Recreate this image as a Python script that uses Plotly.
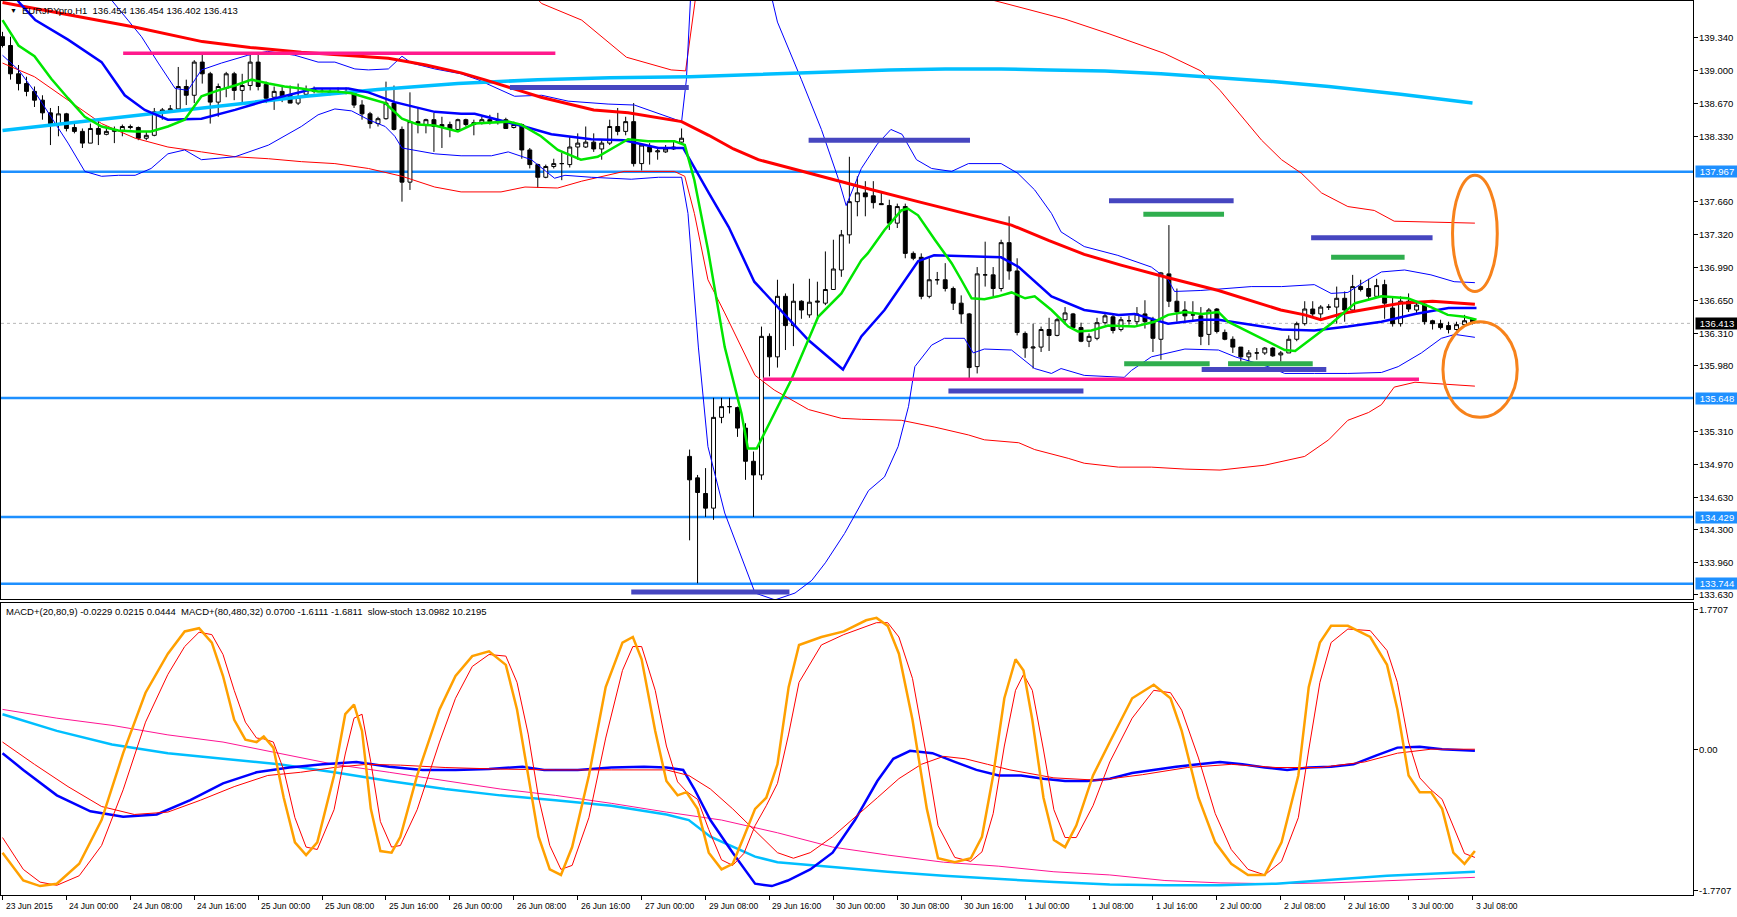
import plotly.graph_objects as go

# ---------------- candle data (H1 bars, index 0 = 23 Jun 16:00) ----------------
opens = [139.35,139.26,138.97,138.87,138.79,138.70,138.57,138.46,138.56,138.42,
138.38,138.26,138.41,138.35,138.38,138.39,138.43,138.42,138.31,138.34,
138.58,138.60,138.61,138.84,138.75,139.09,138.97,138.68,138.82,138.97,
138.80,138.85,139.09,138.86,138.73,138.79,138.75,138.67,138.76,138.81,
138.79,138.79,138.77,138.79,138.78,138.65,138.56,138.46,138.51,138.67,
138.40,137.86,138.48,138.45,138.50,138.43,138.45,138.40,138.50,138.45,
138.47,138.50,138.49,138.50,138.42,138.45,138.19,138.04,137.91,138.02,
138.05,138.04,138.22,138.22,138.27,138.20,138.26,138.43,138.38,138.48,
138.05,138.22,138.17,138.17,138.20,138.27,135.05,134.83,134.67,134.52,
135.45,135.56,135.55,135.34,135.00,134.86,136.28,136.07,136.69,136.39,
136.64,136.50,136.63,136.62,136.76,136.96,137.32,137.66,137.75,137.72,
137.64,137.62,137.44,137.61,137.13,137.09,136.69,136.86,136.86,136.77,
136.62,136.51,135.97,136.91,136.91,136.77,137.24,136.95,136.31,136.16,
136.17,136.35,136.29,136.45,136.51,136.37,136.23,136.26,136.42,136.48,
136.35,136.44,136.43,136.51,136.45,136.25,136.92,136.64,136.55,136.50,
136.49,136.30,136.56,136.32,136.25,136.17,136.07,136.11,136.11,136.16,
136.09,136.11,136.25,136.41,136.56,136.51,136.58,136.58,136.67,136.55,
136.79,136.77,136.69,136.81,136.57,136.41,136.64,136.55,136.61,136.44,
136.41,136.39,136.35,136.40,136.454]
highs = [139.40,139.35,139.06,138.94,138.84,138.75,138.62,138.64,138.57,138.48,
138.41,138.46,138.51,138.43,138.43,138.45,138.45,138.43,138.38,138.62,
138.62,138.65,139.04,138.91,139.11,139.18,138.99,138.87,138.99,138.99,
138.97,139.18,139.18,138.89,138.84,138.84,138.85,138.87,138.85,138.84,
138.82,138.81,138.83,138.83,138.80,138.70,138.58,138.53,138.89,138.85,
138.43,138.78,138.63,138.51,138.57,138.53,138.48,138.51,138.51,138.50,
138.53,138.55,138.57,138.52,138.48,138.46,138.21,138.05,138.04,138.10,
138.16,138.33,138.36,138.43,138.36,138.29,138.50,138.62,138.53,138.67,
138.26,138.26,138.22,138.24,138.29,138.41,135.12,134.86,134.93,135.65,
135.65,135.65,135.56,135.39,135.10,136.38,136.31,136.86,136.72,136.82,
136.65,136.87,136.84,137.15,137.27,137.37,138.12,137.92,137.87,137.87,
137.75,137.68,137.64,137.64,137.15,137.13,137.08,136.94,137.03,136.79,
136.70,136.52,136.99,137.25,136.99,137.27,137.51,137.08,136.33,136.41,
136.38,136.47,136.47,136.58,136.52,136.42,136.31,136.47,136.53,136.50,
136.48,136.49,136.58,136.65,136.48,136.94,137.42,136.77,136.64,136.64,
136.58,136.57,136.57,136.35,136.28,136.17,136.14,136.16,136.17,136.17,
136.13,136.29,136.43,136.64,136.64,136.60,136.61,136.79,136.74,136.91,
136.86,136.87,136.87,136.86,136.69,136.69,136.72,136.64,136.62,136.45,
136.45,136.43,136.43,136.50,136.454]
lows = [139.24,138.91,138.80,138.74,138.63,138.50,138.24,138.33,138.38,138.36,
138.21,138.26,138.24,138.34,138.26,138.33,138.40,138.29,138.29,138.33,
138.50,138.57,138.58,138.65,138.67,138.87,138.46,138.53,138.73,138.70,
138.68,138.80,138.80,138.67,138.60,138.68,138.67,138.65,138.75,138.77,
138.78,138.75,138.76,138.76,138.62,138.50,138.41,138.43,138.50,138.39,
137.66,137.78,138.36,138.36,138.17,138.21,138.32,138.39,138.43,138.34,
138.45,138.45,138.45,138.41,138.41,138.10,138.00,137.80,137.90,138.00,
137.88,138.01,138.09,138.21,138.17,138.09,138.24,138.34,138.34,138.02,
137.98,138.04,138.09,138.16,138.19,138.26,134.19,133.75,134.43,134.40,
135.39,135.49,135.25,134.81,134.43,134.81,135.87,135.96,136.14,136.18,
136.46,136.47,136.45,136.60,136.76,136.89,137.23,137.51,137.51,137.59,
137.63,137.37,137.39,137.08,137.06,136.66,136.67,136.81,136.74,136.55,
136.41,135.85,135.90,136.79,136.69,136.74,136.86,136.29,136.06,135.95,
136.12,136.13,136.28,136.40,136.35,136.22,136.17,136.24,136.40,136.31,
136.33,136.40,136.38,136.36,136.12,136.04,136.58,136.43,136.43,136.43,
136.19,136.19,136.31,136.24,136.11,136.02,136.02,136.04,136.09,136.07,
136.02,136.11,136.23,136.39,136.48,136.46,136.55,136.41,136.43,136.52,
136.74,136.65,136.69,136.46,136.38,136.38,136.53,136.52,136.40,136.35,
136.35,136.31,136.34,136.40,136.402]
closes = [139.26,138.97,138.87,138.79,138.70,138.57,138.46,138.56,138.41,138.38,
138.26,138.41,138.35,138.38,138.39,138.43,138.42,138.31,138.34,138.58,
138.60,138.61,138.84,138.75,139.09,138.97,138.68,138.84,138.97,138.80,
138.85,139.09,138.84,138.72,138.79,138.74,138.67,138.73,138.81,138.79,
138.79,138.77,138.79,138.78,138.65,138.56,138.46,138.51,138.67,138.40,
137.86,138.48,138.46,138.50,138.43,138.45,138.40,138.50,138.45,138.47,
138.50,138.48,138.47,138.41,138.45,138.19,138.04,137.91,138.02,138.05,
138.05,138.22,138.26,138.27,138.20,138.26,138.43,138.38,138.48,138.05,
138.24,138.17,138.18,138.20,138.22,138.31,134.81,134.68,134.52,135.45,
135.56,135.56,135.34,135.00,134.86,136.28,136.07,136.69,136.39,136.64,
136.55,136.63,136.64,136.76,136.97,137.32,137.66,137.75,137.71,137.65,
137.63,137.44,137.61,137.13,137.08,136.69,136.86,136.86,136.77,136.62,
136.51,135.96,136.92,136.91,136.77,137.24,136.95,136.32,136.16,136.17,
136.35,136.29,136.45,136.52,136.37,136.23,136.28,136.42,136.49,136.34,
136.45,136.44,136.51,136.43,136.26,136.93,136.64,136.53,136.49,136.50,
136.28,136.55,136.33,136.25,136.17,136.07,136.11,136.11,136.16,136.08,
136.11,136.25,136.41,136.56,136.51,136.58,136.58,136.67,136.55,136.79,
136.76,136.69,136.80,136.62,136.41,136.64,136.56,136.60,136.43,136.41,
136.37,136.35,136.40,136.44,136.413]
bar_index = list(range(len(closes)))

# ---------------- axis labels ----------------
time_tick_index = list(range(0, 185, 8))
time_tick_labels = ["23 Jun 2015", "24 Jun 00:00", "24 Jun 08:00", "24 Jun 16:00", "25 Jun 00:00",
    "25 Jun 08:00", "25 Jun 16:00", "26 Jun 00:00", "26 Jun 08:00", "26 Jun 16:00", "27 Jun 00:00",
    "29 Jun 08:00", "29 Jun 16:00", "30 Jun 00:00", "30 Jun 08:00", "30 Jun 16:00", "1 Jul 00:00",
    "1 Jul 08:00", "1 Jul 16:00", "2 Jul 00:00", "2 Jul 08:00", "2 Jul 16:00", "3 Jul 00:00", "3 Jul 08:00"]
price_ticks = [139.34, 139.00, 138.67, 138.33, 137.66, 137.32, 136.99, 136.65, 136.31,
               135.98, 135.31, 134.97, 134.63, 134.30, 133.96, 133.63]
osc_ticks = [1.7707, 0.0, -1.7707]
osc_tick_text = ["1.7707", "0.00", "-1.7707"]
level_lines = [137.967, 135.648, 134.429, 133.744]
last_price = 136.413
header_main = "EURJPYpro,H1\u00a0\u00a0136.454 136.454 136.402 136.413"
header_osc = ("MACD+(20,80,9) -0.0229 0.0215 0.0444\u00a0\u00a0MACD+(80,480,32) 0.0700 -1.6111 -1.6811"
              "\u00a0\u00a0slow-stoch 13.0982 10.2195")

# ---------------- moving averages / bands (bar index, price) ----------------
ma_green = [(0,139.52),(2.0,139.26),(4.0,139.15),(6.1,138.92),(8.2,138.72),(10.3,138.53),(12.4,138.43),
    (14.5,138.39),(16.6,138.38),(18.6,138.38),(20.7,138.43),(22.8,138.50),(24.9,138.74),(27.0,138.80),
    (29.1,138.85),(31.2,138.91),(33.3,138.87),(35.3,138.84),(37.4,138.82),(39.5,138.79),(41.6,138.79),
    (43.7,138.77),(45.8,138.72),(47.9,138.67),(50.0,138.51),(52.0,138.45),(54.1,138.44),(57.0,138.38),
    (59.1,138.46),(63.3,138.48),(64.9,138.45),(67.4,138.33),(69.5,138.19),(72.4,138.09),(74.5,138.12),
    (76.6,138.22),(78.3,138.30),(80.8,138.28),(84.1,138.28),(85.4,138.24),(86.6,137.88),(88.3,137.17),
    (90.4,136.17),(92.5,135.49),(93.3,135.13),(94.4,135.13),(96.6,135.49),(98.7,135.83),(102.1,136.48),
    (105.0,136.72),(107.5,137.06),(108.3,137.13),(110.4,137.37),(112.5,137.57),(113.3,137.59),(114.6,137.52),
    (116.7,137.27),(118.8,137.03),(120.0,136.86),(121.3,136.67),(122.9,136.66),(124.6,136.69),(126.3,136.73),
    (128.0,136.67),(129.2,136.69),(131.3,136.55),(133.4,136.38),(134.6,136.33),(136.3,136.34),(138.4,136.39),
    (141.7,136.38),(144.2,136.43),(145.9,136.50),(148.0,136.53),(150.1,136.51),(152.2,136.53),(153.4,136.43),
    (156.3,136.31),(158.4,136.23),(160.5,136.14),(161.8,136.13),(163.4,136.23),(166.3,136.41),(169.3,136.62),
    (172.6,136.69),(175.9,136.67),(178.8,136.58),(180.9,136.50),(183.0,136.48),(184.5,136.45)]
ma_blue = [(0,139.95),(2.1,139.70),(4.1,139.52),(8.2,139.32),(12.4,139.09),(15.3,138.75),(17.8,138.60),
    (20.7,138.50),(24.9,138.51),(29.1,138.60),(33.2,138.70),(39.1,138.82),(43.3,138.82),(45.8,138.78),
    (49.1,138.68),(54.1,138.58),(57.4,138.56),(59.1,138.56),(65.3,138.43),(68.7,138.35),(73.7,138.30),
    (77.8,138.29),(82.1,138.21),(85.2,138.21),(88.4,137.75),(90.9,137.40),(94.1,136.84),(96.6,136.62),
    (100.9,136.24),(105.2,135.94),(107.5,136.28),(110.4,136.55),(114.6,137.05),(116.6,137.11),(120.9,137.10),
    (125.0,137.09),(127.2,136.99),(131.3,136.69),(135.4,136.55),(139.7,136.50),(141.7,136.51),(145.9,136.41),
    (150.1,136.45),(152.2,136.45),(156.3,136.40),(160.1,136.35),(164.2,136.34),(168.4,136.38),(172.6,136.43),
    (176.8,136.51),(181.0,136.57),(184.5,136.57)]
ma_red = [(0,139.70),(8,139.58),(16.5,139.45),(25,139.30),(31,139.24),(37.4,139.19),(48.3,139.13),(53,139.06),
    (57.4,138.98),(60.3,138.91),(63,138.84),(67.4,138.73),(74,138.60),(78.3,138.57),(85,138.48),(88.4,138.34),
    (91.5,138.20),(94.6,138.09),(98.8,138.00),(105,137.86),(107.5,137.81),(114.6,137.66),(120,137.55),
    (126.3,137.42),(131,137.26),(135.4,137.12),(140,137.01),(145.9,136.88),(152.2,136.75),(156,136.65),
    (160,136.55),(163,136.50),(165,136.45),(168,136.52),(172,136.58),(175,136.62),(179,136.64),(184.3,136.61)]
ma_cyan = [(0,138.39),(10,138.48),(19,138.56),(28,138.65),(38,138.74),(47,138.81),(57,138.87),(67,138.91),
    (76,138.93),(86,138.94),(97,138.97),(104,138.99),(111,139.01),(118,139.02),(125,139.02),(131,139.01),
    (138,139.00),(145,138.97),(152,138.93),(159,138.89),(166,138.84),(175,138.76),(184,138.67)]
bb20_upper = [(0,140.6),(10,140.3),(12.5,139.95),(13.6,139.73),(15.7,139.52),(17.4,139.35),(19.5,139.08),
    (21.6,138.82),(23.2,138.80),(24.9,139.01),(27.4,139.08),(30.7,139.16),(33.2,139.20),(36.6,139.16),
    (39.5,139.09),(41.6,139.09),(44.1,139.02),(45.8,139.01),(48.3,139.02),(50.0,139.15),(51.2,139.08),
    (54.1,139.02),(57.4,138.97),(59.5,138.91),(64.1,138.74),(67.5,138.75),(70.8,138.69),(75.8,138.66),
    (79.1,138.65),(82.0,138.57),(85.0,138.48),(85.6,138.91),(86.4,140.2),(88,141.5),(93,141.2),(95.0,140.2),
    (97.0,139.50),(100.0,138.91),(102.5,138.40),(104.6,137.90),(105.6,137.62),(107.5,138.00),(109.5,138.25),
    (111.2,138.40),(112.6,138.35),(114.4,138.09),(116.3,138.00),(118.8,137.97),(120.9,138.05),(125.0,138.05),
    (127.1,137.95),(129.2,137.78),(131.3,137.54),(132.5,137.35),(135.4,137.20),(139.6,137.11),(143.8,136.99),
    (145.9,136.86),(146.7,136.74),(150.0,136.75),(156.3,136.79),(160.1,136.79),(164.2,136.81),(166.3,136.72),
    (168.4,136.73),(170.5,136.84),(172.6,136.94),(175.5,136.96),(178.8,136.91),(181.7,136.84),(184.3,136.83)]
bb20_lower = [(0,139.16),(2.0,139.01),(4.0,138.79),(8.2,138.26),(10.3,137.97),(12.4,137.92),(14.5,137.93),
    (16.6,137.93),(18.6,138.00),(20.7,138.15),(22.8,138.19),(24.9,138.09),(29.1,138.12),(33.3,138.24),
    (37.4,138.43),(39.5,138.55),(41.6,138.61),(43.7,138.59),(45.8,138.50),(47.9,138.43),(49.1,138.33),
    (50.0,138.21),(54.1,138.15),(57.4,138.13),(61.2,138.13),(63.3,138.17),(66.2,138.09),(69.1,137.90),
    (70.4,137.93),(73.7,137.91),(78.7,137.89),(82.1,137.91),(85.0,137.91),(85.8,137.54),(87.1,136.17),
    (88.3,135.15),(90.4,134.47),(92.5,134.02),(94.2,133.65),(96.7,133.58),(99.2,133.65),(101.3,133.78),
    (103.0,133.96),(105.4,134.26),(107.5,134.57),(108.4,134.70),(110.4,134.84),(112.1,135.15),(113.4,135.56),
    (114.2,135.97),(116.3,136.19),(117.9,136.26),(120.4,136.26),(121.5,136.11),(122.9,136.15),(126.3,136.14),
    (129.2,135.95),(131.3,135.90),(132.5,135.95),(135.4,135.88),(140.4,135.86),(141.3,135.93),(143.8,136.07),
    (148.0,136.15),(152.2,136.14),(154.3,136.07),(158.4,135.97),(160.5,135.90),(164.2,135.90),(168.4,135.90),
    (172.6,135.91),(174.7,135.97),(177.6,136.11),(180.1,136.26),(181.8,136.30),(184.3,136.27)]
bb80_upper = [(60,140.3),(67.5,139.69),(72.5,139.52),(78.1,139.14),(83.7,139.01),(85.5,139.00),(87,139.9),
    (88,140.6),(120,140.1),(123.7,139.73),(133,139.53),(138.5,139.38),(145.4,139.18),(150,139.0),
    (152.4,138.80),(155,138.55),(157.6,138.29),(160.1,138.09),(162.6,137.95),(165.1,137.75),(168.4,137.61),
    (171.7,137.57),(174.2,137.46),(184.3,137.44)]
bb80_lower = [(0,139.08),(4.0,138.94),(8.2,138.70),(12.4,138.46),(16.6,138.31),(20.7,138.22),(24.9,138.17),
    (29.1,138.12),(33.3,138.10),(37.4,138.07),(41.6,138.05),(45.8,138.00),(50.0,137.92),(54.1,137.81),
    (57.4,137.76),(62.4,137.76),(65.4,137.81),(69.5,137.80),(72.5,137.87),(75.8,137.93),(77.8,137.97),
    (84.1,137.97),(85.4,137.92),(86.6,137.54),(88.3,136.86),(90.4,136.52),(92.5,136.17),(94.2,135.88),
    (96.6,135.73),(100.9,135.53),(105.0,135.44),(107.5,135.43),(112.5,135.42),(116.7,135.35),(120.9,135.27),
    (122.9,135.22),(127.2,135.19),(129.2,135.12),(133.4,135.03),(135.4,134.98),(139.7,134.94),(143.8,134.94),
    (148,134.92),(152.4,134.91),(158,134.96),(163,135.05),(166,135.22),(168.4,135.42),(171,135.50),
    (172.6,135.58),(174.2,135.76),(176.8,135.81),(184.3,135.77)]

# ---------------- drawn objects (start bar, end bar, price) ----------------
pink_segments = [(15.1, 69.2, 139.18), (95.2, 177.3, 135.84)]
navy_segments = [(63.5, 85.9, 138.83), (100.9, 121.1, 138.29), (138.5, 154.1, 137.67), (163.8, 179.0, 137.29),
                 (118.4, 135.3, 135.72), (150.1, 165.7, 135.94), (78.7, 98.5, 133.66)]
green_segments = [(142.8, 152.9, 137.53), (166.3, 175.5, 137.09), (140.4, 151.1, 136.00), (153.4, 164.0, 136.00)]
ellipses = [(181.5, 187.1, 136.74, 137.93), (180.3, 189.6, 135.45, 136.43)]

# ---------------- oscillator window (bar index, value) ----------------
stoch_main = [(0,-1.29),(2.6,-1.64),(4.7,-1.71),(6.8,-1.68),(9.6,-1.43),(12.4,-0.88),(15.1,-0.04),(17.9,0.72),
    (20.7,1.21),(22.8,1.49),(24.6,1.53),(26.2,1.35),(27.6,0.93),(29.0,0.38),(30.4,0.13),(31.8,0.10),(32.7,0.17),
    (33.9,0.03),(35.2,-0.60),(36.6,-1.16),(38.0,-1.32),(39.4,-1.16),(41.5,-0.32),(42.9,0.45),(44.0,0.57),
    (45.0,0.24),(46.1,-0.74),(47.3,-1.27),(48.7,-1.29),(49.8,-1.09),(51.9,-0.32),(54.7,0.51),(56.7,0.93),
    (58.8,1.18),(60.9,1.24),(63.0,1.07),(64.4,0.51),(65.8,-0.32),(67.1,-1.09),(68.5,-1.50),(69.9,-1.57),
    (71.3,-1.22),(73.4,-0.32),(75.5,0.79),(77.6,1.35),(78.9,1.42),(80.0,1.14),(81.7,0.24),(83.1,-0.39),
    (84.5,-0.57),(85.6,-0.53),(87.0,-0.74),(88.4,-1.29),(90.0,-1.50),(91.4,-1.43),(92.8,-1.09),(94.2,-0.74),
    (95.6,-0.60),(97.0,-0.18),(98.4,0.79),(99.7,1.32),(102.5,1.42),(105.3,1.49),(108.1,1.63),(109.4,1.66),
    (110.8,1.56),(112.2,1.21),(113.9,0.38),(115.7,-0.74),(117.1,-1.36),(119.2,-1.41),(121.2,-1.36),(122.6,-1.09),
    (124.0,-0.32),(125.4,0.65),(126.8,1.14),(127.8,1.00),(128.9,0.38),(130.3,-0.60),(131.6,-1.13),(133.0,-1.22),
    (134.4,-0.95),(136.5,-0.32),(138.6,0.10),(141.4,0.65),(144.1,0.82),(146.2,0.65),(147.6,0.24),(149.7,-0.60),
    (151.8,-1.16),(153.8,-1.43),(155.9,-1.57),(158.0,-1.57),(160.1,-1.16),(162.2,-0.32),(163.5,0.79),
    (164.9,1.35),(166.3,1.56),(168.4,1.56),(171.2,1.42),(173.3,1.07),(174.6,0.51),(176.0,-0.32),(177.4,-0.53),
    (178.8,-0.53),(180.2,-0.74),(181.6,-1.29),(183.0,-1.43),(184.3,-1.27)]
stoch_signal = [(0,-1.10),(2.6,-1.50),(4.7,-1.66),(6.8,-1.70),(9.6,-1.58),(12.4,-1.20),(15.1,-0.50),(17.9,0.35),
    (20.7,0.95),(22.8,1.30),(24.6,1.48),(26.2,1.45),(27.6,1.20),(29.0,0.75),(30.4,0.35),(31.8,0.15),(32.7,0.14),
    (33.9,0.10),(35.2,-0.25),(36.6,-0.85),(38.0,-1.22),(39.4,-1.25),(41.5,-0.75),(42.9,-0.05),(44.0,0.40),
    (45.0,0.45),(46.1,-0.15),(47.3,-0.90),(48.7,-1.22),(49.8,-1.20),(51.9,-0.75),(54.7,0.10),(56.7,0.65),
    (58.8,1.05),(60.9,1.20),(63.0,1.18),(64.4,0.85),(65.8,0.20),(67.1,-0.60),(68.5,-1.20),(69.9,-1.50),
    (71.3,-1.45),(73.4,-0.85),(75.5,0.15),(77.6,1.00),(78.9,1.30),(80.0,1.30),(81.7,0.75),(83.1,0.05),
    (84.5,-0.40),(85.6,-0.52),(87.0,-0.62),(88.4,-1.00),(90.0,-1.38),(91.4,-1.45),(92.8,-1.30),(94.2,-0.95),
    (95.6,-0.70),(97.0,-0.42),(98.4,0.20),(99.7,0.85),(102.5,1.32),(105.3,1.45),(108.1,1.55),(109.4,1.60),
    (110.8,1.60),(112.2,1.42),(113.9,0.90),(115.7,-0.10),(117.1,-0.95),(119.2,-1.35),(121.2,-1.40),(122.6,-1.28),
    (124.0,-0.80),(125.4,0.05),(126.8,0.75),(127.8,0.95),(128.9,0.75),(130.3,0.00),(131.6,-0.75),(133.0,-1.10),
    (134.4,-1.10),(136.5,-0.70),(138.6,-0.15),(141.4,0.40),(144.1,0.75),(146.2,0.72),(147.6,0.50),(149.7,-0.10),
    (151.8,-0.80),(153.8,-1.25),(155.9,-1.50),(158.0,-1.57),(160.1,-1.40),(162.2,-0.85),(163.5,0.00),
    (164.9,0.85),(166.3,1.35),(168.4,1.52),(171.2,1.50),(173.3,1.25),(174.6,0.85),(176.0,0.10),(177.4,-0.35),
    (178.8,-0.50),(180.2,-0.62),(181.6,-0.95),(183.0,-1.30),(184.3,-1.35)]
macd_fast_main = [(0,-0.04),(2.6,-0.25),(6.8,-0.57),(11.0,-0.77),(15.1,-0.84),(19.3,-0.81),(23.5,-0.63),
    (27.6,-0.42),(31.8,-0.28),(35.9,-0.22),(40.1,-0.18),(44.3,-0.15),(48.4,-0.21),(52.6,-0.25),(56.7,-0.25),
    (60.9,-0.24),(65.1,-0.21),(67.8,-0.25),(72.0,-0.25),(76.2,-0.22),(80.3,-0.21),(83.1,-0.22),(85.2,-0.25),
    (86.6,-0.49),(88.6,-0.88),(91.4,-1.29),(94.2,-1.68),(96.3,-1.71),(98.3,-1.64),(101.1,-1.50),(103.9,-1.29),
    (106.7,-0.88),(109.5,-0.39),(111.5,-0.11),(113.6,-0.01),(116.4,-0.04),(119.2,-0.15),(121.9,-0.25),
    (124.7,-0.32),(127.5,-0.32),(130.3,-0.36),(133.0,-0.39),(135.8,-0.39),(138.6,-0.36),(141.4,-0.29),
    (144.1,-0.25),(146.9,-0.21),(149.7,-0.18),(152.4,-0.15),(155.2,-0.18),(158.0,-0.22),(160.8,-0.25),
    (163.5,-0.22),(166.3,-0.21),(169.1,-0.18),(171.9,-0.07),(174.6,0.03),(177.4,0.04),(180.2,0.01),(184.3,-0.01)]
macd_fast_signal = [(0,0.10),(4.0,-0.18),(8.2,-0.46),(12.4,-0.71),(16.5,-0.81),(20.7,-0.78),(24.8,-0.63),
    (29.0,-0.46),(33.2,-0.32),(37.3,-0.28),(41.5,-0.22),(45.6,-0.18),(49.8,-0.19),(55.4,-0.22),(62.3,-0.24),
    (69.2,-0.25),(76.2,-0.25),(83.1,-0.25),(85.9,-0.32),(88.6,-0.49),(91.4,-0.74),(94.2,-1.02),(97.0,-1.29),
    (99.0,-1.36),(101.1,-1.29),(103.9,-1.09),(106.7,-0.85),(109.5,-0.60),(112.2,-0.36),(115.0,-0.18),
    (117.8,-0.08),(120.5,-0.11),(123.3,-0.18),(126.1,-0.25),(131.6,-0.35),(137.2,-0.38),(142.7,-0.31),
    (148.3,-0.22),(153.8,-0.18),(159.4,-0.22),(164.9,-0.22),(170.5,-0.15),(174.6,-0.04),(178.8,0.01),(184.3,0.01)]
macd_slow_main = [(0,0.45),(6.8,0.24),(13.7,0.07),(20.7,-0.04),(27.6,-0.11),(34.6,-0.18),(41.5,-0.28),
    (48.4,-0.39),(55.4,-0.49),(62.3,-0.57),(69.2,-0.63),(76.2,-0.70),(83.1,-0.81),(85.9,-0.88),(88.6,-1.09),
    (91.4,-1.22),(94.2,-1.34),(97.0,-1.41),(102.5,-1.46),(110.8,-1.53),(117.8,-1.58),(124.7,-1.62),
    (131.6,-1.66),(138.6,-1.69),(145.5,-1.70),(152.4,-1.70),(159.4,-1.68),(166.3,-1.63),(173.3,-1.58),
    (180.2,-1.55),(184.3,-1.53)]
macd_slow_signal = [(0,0.51),(6.8,0.40),(13.7,0.31),(20.7,0.19),(27.6,0.10),(34.6,-0.04),(41.5,-0.18),
    (48.4,-0.28),(55.4,-0.39),(62.3,-0.49),(69.2,-0.57),(76.2,-0.67),(83.1,-0.78),(90.0,-0.88),(97.0,-1.04),
    (103.9,-1.22),(110.8,-1.32),(117.8,-1.41),(124.7,-1.46),(131.6,-1.53),(138.6,-1.57),(145.5,-1.64),
    (152.4,-1.67),(159.4,-1.68),(166.3,-1.67),(173.3,-1.64),(180.2,-1.61),(184.3,-1.60)]

# ---------------- figure ----------------
FONT = "Liberation Sans, Arial, sans-serif"
X_RANGE = [-0.19, 211.6]
fig = go.Figure()


def add_line(pts, color, width, ax="y", xa="x"):
    fig.add_trace(go.Scatter(x=[p[0] for p in pts], y=[p[1] for p in pts], mode="lines",
                             line=dict(color=color, width=width), xaxis=xa, yaxis=ax,
                             hoverinfo="skip", showlegend=False))


fig.add_trace(go.Candlestick(x=bar_index, open=opens, high=highs, low=lows, close=closes,
    increasing=dict(line=dict(color="black", width=1), fillcolor="white"),
    decreasing=dict(line=dict(color="black", width=1), fillcolor="black"),
    whiskerwidth=0, xaxis="x", yaxis="y", hoverinfo="skip", showlegend=False))

add_line(bb80_upper, "#ff0000", 1)
add_line(bb80_lower, "#ff0000", 1)
add_line(bb20_upper, "#0000ff", 1)
add_line(bb20_lower, "#0000ff", 1)
add_line(ma_cyan, "#00bfff", 3.5)
add_line(ma_red, "#ff0000", 3)
add_line(ma_blue, "#0000ff", 2.5)
add_line(ma_green, "#00e600", 2.5)

for a, b, lv in pink_segments:
    add_line([(a, lv), (b, lv)], "#ff1a8c", 3.5)
for a, b, lv in navy_segments:
    add_line([(a, lv), (b, lv)], "#4646c0", 5)
for a, b, lv in green_segments:
    add_line([(a, lv), (b, lv)], "#2fae4e", 5)

# oscillator window
add_line(macd_slow_signal, "#ff1493", 1, ax="y2", xa="x2")
add_line(macd_slow_main, "#00bfff", 2.5, ax="y2", xa="x2")
add_line(macd_fast_main, "#0000ff", 2.5, ax="y2", xa="x2")
add_line(macd_fast_signal, "#ff0000", 1, ax="y2", xa="x2")
add_line(stoch_signal, "#ff0000", 1, ax="y2", xa="x2")
add_line(stoch_main, "#ffa000", 2.5, ax="y2", xa="x2")

shapes = []
for lv in level_lines:
    shapes.append(dict(type="line", xref="paper", x0=0, x1=1, yref="y", y0=lv, y1=lv,
                       line=dict(color="#1e90ff", width=2.5), layer="below"))
shapes.append(dict(type="line", xref="paper", x0=0, x1=1, yref="y", y0=last_price, y1=last_price,
                   line=dict(color="#b8b8b8", width=1, dash="dot"), layer="below"))
for x0, x1, y0, y1 in ellipses:
    shapes.append(dict(type="circle", xref="x", yref="y", x0=x0, x1=x1, y0=y0, y1=y1,
                       line=dict(color="#f7821b", width=3)))

LABEL_FONT = dict(family=FONT, size=9.5, color="black")
annotations = []
# price scale labels (drawn as text so they fit the narrow right strip)
for v in price_ticks:
    annotations.append(dict(xref="paper", x=1, xanchor="left", xshift=5, yref="y", y=v, yanchor="middle",
                            text=f"{v:.3f}", showarrow=False, borderpad=0, font=LABEL_FONT))
for v, t in zip(osc_ticks, osc_tick_text):
    annotations.append(dict(xref="paper", x=1, xanchor="left", xshift=5, yref="y2", y=v, yanchor="middle",
                            text=t, showarrow=False, borderpad=0, font=LABEL_FONT))
for lv in level_lines:
    annotations.append(dict(xref="paper", x=1, xanchor="left", xshift=2, yref="y", y=lv, yanchor="middle",
                            text=f"{lv:.3f}", showarrow=False, bgcolor="#1e90ff", width=42, align="center",
                            borderpad=0, font=dict(family=FONT, size=9.5, color="white")))
annotations.append(dict(xref="paper", x=1, xanchor="left", xshift=2, yref="y", y=last_price, yanchor="middle",
                        text=f"{last_price:.3f}", showarrow=False, bgcolor="black", width=42, align="center",
                        borderpad=0, font=dict(family=FONT, size=9.5, color="white")))
for ti, tl in zip(time_tick_index, time_tick_labels):
    annotations.append(dict(xref="x2", x=ti, xanchor="left", xshift=1, yref="paper", y=-0.0125,
                            yanchor="middle", text=tl, showarrow=False,
                            font=dict(family=FONT, size=8.5, color="black")))
annotations.append(dict(xref="paper", x=0.004, xanchor="left", yref="paper", y=0.9895, yanchor="middle",
                        text="\u25bc", showarrow=False, font=dict(family=FONT, size=7, color="black")))
annotations.append(dict(xref="paper", x=0.0115, xanchor="left", yref="paper", y=0.9895, yanchor="middle",
                        text=header_main, showarrow=False, font=dict(family=FONT, size=9.5, color="black")))
annotations.append(dict(xref="paper", x=0.002, xanchor="left", yref="paper", y=0.3171, yanchor="middle",
                        text=header_osc, showarrow=False, font=dict(family=FONT, size=9.5, color="black")))

axis_common = dict(showgrid=False, zeroline=False, showline=True, linecolor="black", linewidth=1, mirror=True)
fig.update_layout(
    width=1737, height=917, margin=dict(l=1, r=44, t=1, b=22, pad=0),
    paper_bgcolor="white", plot_bgcolor="white", showlegend=False,
    font=dict(family=FONT, size=10, color="black"),
    xaxis=dict(domain=[0, 1], anchor="y", range=X_RANGE, showticklabels=False, ticks="",
               rangeslider=dict(visible=False), **axis_common),
    xaxis2=dict(domain=[0, 1], anchor="y2", matches="x", range=X_RANGE, tickvals=time_tick_index,
                showticklabels=False, ticks="outside", ticklen=4, tickcolor="black", **axis_common),
    yaxis=dict(domain=[0.3311, 1], anchor="x", side="right", range=[133.589, 139.716],
               tickvals=price_ticks, showticklabels=False, ticks="outside",
               ticklen=4, tickcolor="black", **axis_common),
    yaxis2=dict(domain=[0, 0.3266], anchor="x2", side="right", range=[-1.822, 1.847],
                tickvals=osc_ticks, showticklabels=False, ticks="outside", ticklen=4, tickcolor="black",
                **axis_common),
    shapes=shapes, annotations=annotations,
)

# remove the browser's default page margin so the 1737x917 figure fills the window exactly
fig.write_html("out.html", config={"displayModeBar": False},
               post_script="document.body.style.margin='0';document.body.style.overflow='hidden';")
